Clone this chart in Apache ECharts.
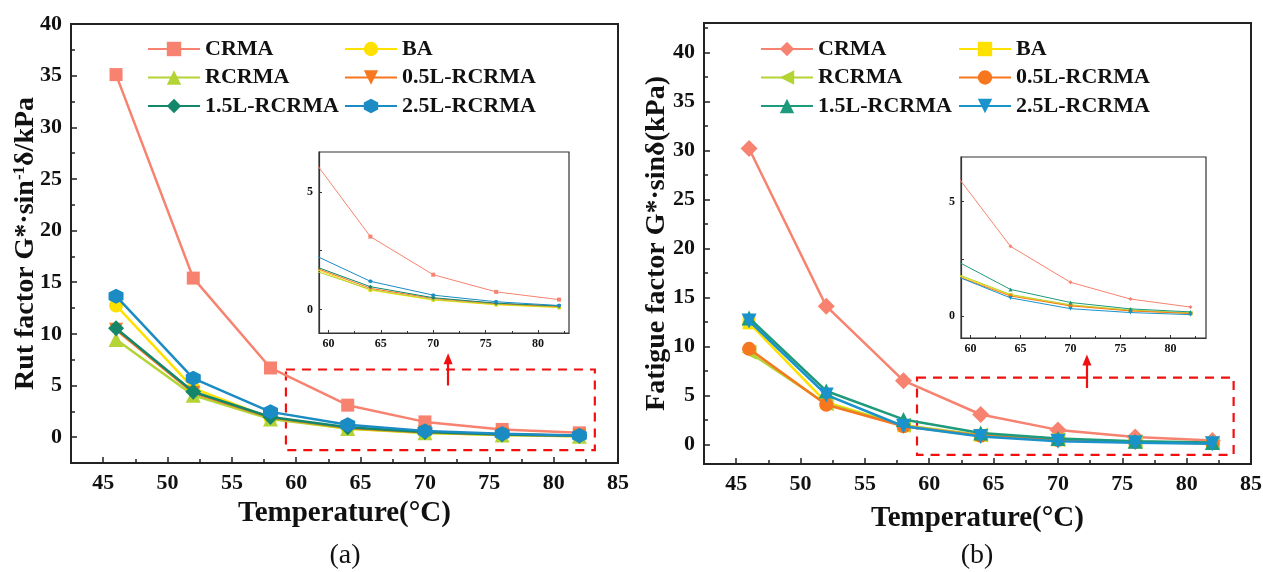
<!DOCTYPE html>
<html><head><meta charset="utf-8">
<script src="https://cdn.jsdelivr.net/npm/echarts@6/dist/echarts.min.js"></script>
<style>
html,body{margin:0;padding:0;background:#fff;width:1263px;height:572px;overflow:hidden}
#a{position:absolute;left:0;top:0;width:640px;height:572px}
#b{position:absolute;left:625px;top:0;width:638px;height:572px}
</style></head>
<body><div id="a"></div><div id="b"></div>
<script>
// ---------- data ----------
const temps = [46, 52, 58, 64, 70, 76, 82];
const seriesNames = ['CRMA', 'BA', 'RCRMA', '0.5L-RCRMA', '1.5L-RCRMA', '2.5L-RCRMA'];

// (a) Rut factor G*/sin(delta), kPa
const rutCRMA  = [35.1, 15.4, 6.7, 3.1, 1.48, 0.75, 0.42];
const rutBA    = [12.75, 4.75, 1.85, 0.82, 0.40, 0.20, 0.08];
const rutRCRMA = [9.45, 4.05, 1.75, 0.85, 0.42, 0.22, 0.10];
const rut05L   = [10.4, 4.3, 1.9, 0.90, 0.47, 0.25, 0.13];
const rut15L   = [10.55, 4.4, 1.95, 0.97, 0.50, 0.27, 0.15];
const rut25L   = [13.65, 5.7, 2.45, 1.20, 0.61, 0.33, 0.17];

// (b) Fatigue factor G*·sin(delta), kPa
const fatCRMA  = [30.2, 14.1, 6.5, 3.05, 1.48, 0.75, 0.40];
const fatBA    = [12.4, 4.3, 1.9, 0.92, 0.47, 0.25, 0.12];
const fatRCRMA = [9.4, 4.15, 1.95, 0.95, 0.50, 0.27, 0.15];
const fat05L   = [9.75, 4.05, 1.85, 0.88, 0.45, 0.23, 0.12];
const fat15L   = [12.9, 5.45, 2.55, 1.17, 0.60, 0.32, 0.19];
const fat25L   = [12.6, 5.05, 1.85, 0.80, 0.33, 0.16, 0.07];

// tick labels
const xTickLabels = [45, 50, 55, 60, 65, 70, 75, 80, 85];
const xMinorTicks = [47.5, 52.5, 57.5, 62.5, 67.5, 72.5, 77.5, 82.5];
const yTickLabels = [0, 5, 10, 15, 20, 25, 30, 35, 40];
const yMinorTicksA = [2.5, 7.5, 12.5, 17.5, 22.5, 27.5, 32.5, 37.5];
const yMinorTicksB = [2.5, 7.5, 12.5, 17.5, 22.5, 27.5, 32.5, 37.5, 42.5];
const insetXLabels = [60, 65, 70, 75, 80];
const insetXMinor = [62.5, 67.5, 72.5, 77.5, 82.5];
const insetYLabels = [0, 5];
const insetYMinor = [2.5];

// ---------- style ----------
const FONT = '"Times New Roman", "Liberation Serif", serif';
const HEX = 'path://M5,0 L9.33,2.5 L9.33,7.5 L5,10 L0.67,7.5 L0.67,2.5 Z';
const DOWN = 'path://M0,0 L10,0 L5,8.66 Z';
const LEFT = 'path://M0,5 L8.66,0 L8.66,10 Z';

function build(dom, o) {
  const chart = echarts.init(dom, null, {renderer: 'canvas'});
  const axisColor = '#222';
  const xAxes = [
    {gridIndex: 0, type: 'value', position: 'bottom', min: 42.5, max: 85,
     axisLine: {onZero: false, lineStyle: {color: axisColor, width: 2}},
     axisTick: {inside: true, length: 6, customValues: xTickLabels, lineStyle: {width: 1.5, color: axisColor}},
     axisLabel: {customValues: xTickLabels, margin: 9, fontFamily: FONT, fontWeight: 'bold', fontSize: 22, color: '#111'},
     splitLine: {show: false},
     name: 'Temperature(°C)', nameLocation: 'middle', nameGap: o.xNameGap,
     nameTextStyle: {fontFamily: FONT, fontWeight: 'bold', fontSize: 29, color: '#111'}},
    {gridIndex: 0, type: 'value', position: 'bottom', min: 42.5, max: 85,
     axisLine: {show: false, onZero: false},
     axisTick: {inside: true, length: 4, customValues: xMinorTicks, lineStyle: {width: 1.5, color: axisColor}},
     axisLabel: {show: false}, splitLine: {show: false}},
    {gridIndex: 1, type: 'value', position: 'bottom', min: o.inset.xmin, max: o.inset.xmax,
     axisLine: {onZero: false, lineStyle: {color: '#333', width: 1.2}},
     axisTick: {inside: true, length: 3, customValues: insetXLabels, lineStyle: {width: 1, color: '#333'}},
     axisLabel: {customValues: insetXLabels, margin: 5, fontFamily: FONT, fontWeight: 'bold', fontSize: 12, color: '#111'},
     splitLine: {show: false}},
    {gridIndex: 1, type: 'value', position: 'bottom', min: o.inset.xmin, max: o.inset.xmax,
     axisLine: {show: false, onZero: false},
     axisTick: {inside: true, length: 2, customValues: insetXMinor, lineStyle: {width: 1, color: '#333'}},
     axisLabel: {show: false}, splitLine: {show: false}}
  ];
  const yAxes = [
    {gridIndex: 0, type: 'value', position: 'left', min: o.ymin, max: o.ymax,
     axisLine: {onZero: false, lineStyle: {color: axisColor, width: 2}},
     axisTick: {inside: true, length: 6, customValues: yTickLabels, lineStyle: {width: 1.5, color: axisColor}},
     axisLabel: {customValues: yTickLabels, margin: 9, fontFamily: FONT, fontWeight: 'bold', fontSize: 22, color: '#111'},
     splitLine: {show: false},
     name: o.yName, nameLocation: 'middle', nameGap: o.yNameGap, nameRotate: 90, nameMoveOverlap: false,
     nameTextStyle: {fontFamily: FONT, fontWeight: 'bold', fontSize: 28, color: '#111',
       rich: {
         n: {fontFamily: FONT, fontWeight: 'bold', fontSize: 28, color: '#111'},
         sup: {fontFamily: FONT, fontWeight: 'bold', fontSize: 17, color: '#111', verticalAlign: 'top', padding: [0, 0, 12, 0]}
       }}},
    {gridIndex: 0, type: 'value', position: 'left', min: o.ymin, max: o.ymax,
     axisLine: {show: false, onZero: false},
     axisTick: {inside: true, length: 4, customValues: o.yMinor, lineStyle: {width: 1.5, color: axisColor}},
     axisLabel: {show: false}, splitLine: {show: false}},
    {gridIndex: 1, type: 'value', position: 'left', min: o.inset.ymin, max: o.inset.ymax,
     axisLine: {onZero: false, lineStyle: {color: '#333', width: 1.2}},
     axisTick: {inside: true, length: 3, customValues: insetYLabels, lineStyle: {width: 1, color: '#333'}},
     axisLabel: {customValues: insetYLabels, margin: 6, fontFamily: FONT, fontWeight: 'bold', fontSize: 12, color: '#111'},
     splitLine: {show: false}},
    {gridIndex: 1, type: 'value', position: 'left', min: o.inset.ymin, max: o.inset.ymax,
     axisLine: {show: false, onZero: false},
     axisTick: {inside: true, length: 3, customValues: insetYMinor, lineStyle: {width: 1, color: '#333'}},
     axisLabel: {show: false}, splitLine: {show: false}}
  ];
  const series = [];
  o.data.forEach((arr, i) => {
    const pts = temps.map((t, j) => [t, arr[j]]);
    const s = {
      type: 'line', name: seriesNames[i], xAxisIndex: 0, yAxisIndex: 0, data: pts,
      symbol: o.symbols[i], symbolSize: o.sizes[i], z: 3 + i,
      lineStyle: {width: 2.5, color: o.colors[i]},
      itemStyle: {color: o.colors[i]}, animation: false
    };
    if (i === 0) {
      s.markArea = {silent: true, z: 1,
        itemStyle: {color: 'rgba(0,0,0,0)', borderColor: '#f01010', borderWidth: 2.2, borderType: [9, 7]},
        data: [[{coord: [o.dash[0], o.dash[1]]}, {coord: [o.dash[2], o.dash[3]]}]]};
      s.markLine = {silent: true, symbol: ['none', 'triangle'], symbolSize: [9, 11],
        lineStyle: {color: '#f01010', width: 2.2, type: 'solid'}, label: {show: false},
        data: [[{coord: [o.arrow[0], o.arrow[1]]}, {coord: [o.arrow[0], o.arrow[2]]}]]};
    }
    series.push(s);
  });
  o.data.forEach((arr, i) => {
    series.push({
      type: 'line', name: seriesNames[i] + ' inset', xAxisIndex: 2, yAxisIndex: 2,
      data: temps.map((t, j) => [t, arr[j]]), clip: true,
      symbol: o.symbols[i], symbolSize: 4, z: 3 + i,
      lineStyle: {width: 1, color: o.colors[i]}, itemStyle: {color: o.colors[i]}, animation: false
    });
  });
  const legendBase = {orient: 'vertical', itemWidth: 52, itemHeight: 18, itemGap: 6.5, top: o.legendTop,
    textStyle: {fontFamily: FONT, fontWeight: 'bold', fontSize: 22, color: '#111', lineHeight: 22}};
  chart.setOption({
    animation: false,
    backgroundColor: o.bg,
    grid: [
      Object.assign({show: true, borderColor: '#222', borderWidth: 2, containLabel: false, outerBoundsMode: 'none'}, o.grid),
      Object.assign({show: true, borderColor: '#333', borderWidth: 1.2, backgroundColor: '#fff', containLabel: false, outerBoundsMode: 'none'}, o.inset.grid)
    ],
    xAxis: xAxes, yAxis: yAxes,
    legend: [
      Object.assign({}, legendBase, {left: o.legendLeft[0], data: [seriesNames[0], seriesNames[2], seriesNames[4]]}),
      Object.assign({}, legendBase, {left: o.legendLeft[1], data: [seriesNames[1], seriesNames[3], seriesNames[5]]})
    ],
    graphic: [{type: 'text', x: o.caption[1], y: 556,
      style: {text: o.caption[0], font: '28px ' + FONT, fill: '#111', align: 'center', verticalAlign: 'middle', textAlign: 'center', textVerticalAlign: 'middle'}}],
    series: series
  });
}

build(document.getElementById('a'), {
  bg: '#fff',
  data: [rutCRMA, rutBA, rutRCRMA, rut05L, rut15L, rut25L],
  colors: ['#F7826F', '#FFE100', '#B4D334', '#F7771F', '#14876A', '#1B8BC3'],
  symbols: ['rect', 'circle', 'triangle', DOWN, 'diamond', HEX],
  sizes: [13, 14, 15, 14, 16, 15],
  grid: {left: 71, top: 24, width: 547, height: 439},
  ymin: -2.5, ymax: 40, yMinor: yMinorTicksA,
  yName: '{n|Rut factor G*·sin}{sup|-1}{n|δ/kPa}', yNameGap: 31, xNameGap: 34,
  inset: {grid: {left: 319, top: 152, width: 250, height: 181}, xmin: 59.1, xmax: 82.95, ymin: -1.0, ymax: 6.7},
  dash: [59.2, 6.55, 83.2, -1.25],
  arrow: [71.8, 5.0, 7.6],
  legendLeft: [142, 339], legendTop: 33,
  caption: ['(a)', 345]
});

build(document.getElementById('b'), {
  bg: 'rgba(0,0,0,0)',
  data: [fatCRMA, fatBA, fatRCRMA, fat05L, fat15L, fat25L],
  colors: ['#F7826F', '#FFE100', '#B4D334', '#F7771F', '#1E9A7C', '#1A93CC'],
  symbols: ['diamond', 'rect', LEFT, 'circle', 'triangle', DOWN],
  sizes: [17, 13, 15, 14, 15, 15],
  grid: {left: 79, top: 23, width: 547, height: 441},
  ymin: -2, ymax: 43, yMinor: yMinorTicksB,
  yName: 'Fatigue factor G*·sinδ(kPa)', yNameGap: 33, xNameGap: 40,
  inset: {grid: {left: 336, top: 157, width: 245, height: 181}, xmin: 59.05, xmax: 83.55, ymin: -0.95, ymax: 6.95},
  dash: [59.05, 6.82, 83.65, -1.07],
  arrow: [72.25, 5.75, 8.6],
  legendLeft: [130, 328], legendTop: 33,
  caption: ['(b)', 352]
});
</script>
</body></html>
